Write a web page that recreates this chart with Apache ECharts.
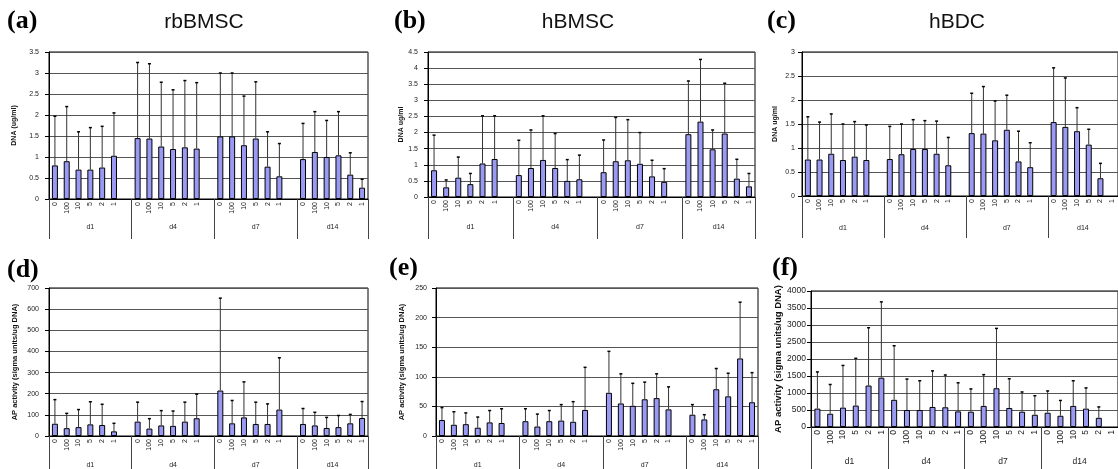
<!DOCTYPE html>
<html>
<head>
<meta charset="utf-8">
<script src="https://cdn.jsdelivr.net/npm/echarts@6/dist/echarts.min.js"></script>
<style>
  html, body { margin: 0; padding: 0; background: #fff; }
  #chart { width: 1118px; height: 469px; }
</style>
</head>
<body>
<div id="chart"></div>
<script>
// categories
const doses = ["0", "100", "10", "5", "2", "1"]
const days = ["d1", "d4", "d7", "d14"]

// (a) rbBMSC - DNA (ug/ml)
const dnaRb = [0.80, 0.90, 0.70, 0.70, 0.75, 1.03, 1.45, 1.44, 1.25, 1.19, 1.23, 1.20, 1.49, 1.49, 1.28, 1.44, 0.77, 0.54, 0.95, 1.12, 1.00, 1.04, 0.58, 0.27]
const dnaRbSd = [1.17, 1.30, 0.90, 1.00, 0.98, 1.02, 1.80, 1.78, 1.53, 1.41, 1.59, 1.57, 1.51, 1.51, 1.17, 1.35, 0.83, 0.78, 0.85, 0.96, 0.87, 1.04, 0.52, 0.20]
// (b) hBMSC - DNA ug/ml
const dnaHb = [0.83, 0.30, 0.60, 0.40, 1.04, 1.18, 0.68, 0.90, 1.15, 0.90, 0.50, 0.55, 0.77, 1.11, 1.14, 1.03, 0.64, 0.47, 1.95, 2.34, 1.48, 1.97, 0.57, 0.33]
const dnaHbSd = [1.09, 0.23, 0.64, 0.33, 1.48, 1.34, 1.08, 1.18, 1.37, 1.07, 0.66, 0.75, 1.00, 1.36, 1.26, 0.97, 0.50, 0.41, 1.65, 1.93, 0.60, 1.56, 0.60, 0.40]
// (c) hBDC - DNA ug/ml (last bar is cut off in the source)
const dnaHd = [0.76, 0.76, 0.88, 0.75, 0.82, 0.75, 0.77, 0.87, 0.98, 0.98, 0.88, 0.64, 1.31, 1.30, 1.16, 1.38, 0.72, 0.60, 1.54, 1.44, 1.35, 1.07, 0.37, null]
const dnaHdSd = [0.89, 0.78, 0.83, 0.75, 0.73, 0.73, 0.68, 0.63, 0.61, 0.59, 0.68, 0.58, 0.83, 0.98, 0.82, 0.72, 0.63, 0.51, 1.13, 1.02, 0.49, 0.32, 0.31, null]
// (d) rbBMSC - AP activity
const apRb = [58, 37, 42, 55, 52, 22, 68, 35, 50, 48, 68, 84, 215, 60, 88, 57, 57, 125, 57, 50, 38, 42, 60, 85]
const apRbSd = [114, 70, 83, 107, 98, 38, 92, 47, 70, 70, 92, 114, 437, 108, 168, 103, 95, 245, 73, 62, 50, 55, 42, 78]
// (e) hBMSC - AP activity
const apHb = [27, 19, 20, 14, 23, 22, 25, 16, 25, 26, 24, 44, 73, 55, 51, 62, 64, 45, 36, 28, 79, 67, 131, 57]
const apHbSd = [21, 22, 19, 18, 20, 24, 21, 21, 18, 27, 34, 72, 70, 50, 38, 29, 41, 38, 17, 8, 35, 39, 95, 50]
// (f) hBDC - AP activity (last bar is cut off in the source)
const apHd = [540, 390, 570, 630, 1220, 1450, 800, 500, 500, 590, 580, 460, 450, 620, 1140, 560, 450, 360, 420, 330, 620, 540, 270, null]
const apHdSd = [1080, 860, 1240, 1390, 1700, 2230, 1590, 910, 860, 1060, 950, 840, 670, 920, 1760, 860, 580, 560, 640, 450, 740, 610, 320, null]

const apName = "AP activity (sigma units/ug DNA)"

const panels = [
  { mean: dnaRb, sd: dnaRbSd, max: 3.5, step: 0.5, name: "DNA (ug/ml)", gap: true,
    left: 49, top: 52, width: 319, height: 147, nameGap: 31, labMargin: 10, tick1: 19, tick2: 40, dayMargin: 25, fs: 7, nfs: 7 },
  { mean: dnaHb, sd: dnaHbSd, max: 4.5, step: 0.5, name: "DNA ug/ml", gap: true,
    left: 428, top: 52, width: 327, height: 145, nameGap: 22, labMargin: 10, tick1: 18, tick2: 42, dayMargin: 27, fs: 7, nfs: 7 },
  { mean: dnaHd, sd: dnaHdSd, max: 3, step: 0.5, name: "DNA ug/ml", gap: true,
    left: 802, top: 52, width: 328, height: 144, nameGap: 23, labMargin: 7, tick1: 21, tick2: 42, dayMargin: 29, fs: 7, nfs: 7 },
  { mean: apRb, sd: apRbSd, max: 700, step: 100, name: apName, gap: true,
    left: 49, top: 288, width: 319, height: 149, nameGap: 30, labMargin: 10, tick1: 20, tick2: 40, dayMargin: 26, fs: 7, nfs: 7.5 },
  { mean: apHb, sd: apHbSd, max: 250, step: 50, name: apName, gap: true,
    left: 436, top: 288, width: 322, height: 149, nameGap: 30, labMargin: 9, tick1: 20, tick2: 40, dayMargin: 26, fs: 7, nfs: 7.5 },
  { mean: apHd, sd: apHdSd, max: 4000, step: 500, name: apName, gap: false,
    left: 811, top: 291, width: 318, height: 136, nameGap: 25, labMargin: 5, tick1: 24, tick2: 45, dayMargin: 30, fs: 8.5, nfs: 9.5 }
]

const font = "Liberation Sans"
const grid = [], xAxis = [], yAxis = [], series = []

panels.forEach(function (p, i) {
  // category list: 6 doses per day, with an empty slot between days when gap is true
  const cats = [], vals = [], errs = []
  const bounds = [0], centers = []
  days.forEach(function (d, k) {
    const start = cats.length
    doses.forEach(function (dose, j) {
      const v = p.mean[k * 6 + j]
      if (v !== null) errs.push([cats.length, v, p.sd[k * 6 + j]])
      cats.push(dose)
      vals.push(v)
    })
    if (p.gap && k < days.length - 1) {
      cats.push("")
      vals.push(null)
    }
    bounds.push(cats.length)
    centers.push((start + cats.length) / 2)
  })

  grid.push({
    left: p.left, top: p.top, width: p.width, height: p.height,
    show: true, borderColor: "#000", borderWidth: 1
  })
  xAxis.push({
    type: "category", gridIndex: i, position: "bottom", data: cats,
    axisLine: { lineStyle: { color: "#000", width: 1 } },
    axisTick: { interval: 0, length: p.tick1, lineStyle: { color: "#222" } },
    axisLabel: { interval: 0, rotate: 90, margin: 3, fontSize: p.fs, fontFamily: font, color: "#222" }
  })
  xAxis.push({
    type: "value", gridIndex: i, position: "bottom", min: 0, max: cats.length,
    axisLine: { show: false },
    splitLine: { show: false },
    axisTick: { customValues: bounds, length: p.tick2, lineStyle: { color: "#444" } },
    axisLabel: {
      customValues: centers, margin: p.dayMargin, fontSize: p.fs, fontFamily: font, color: "#222",
      formatter: function (v) { return days[centers.indexOf(v)] }
    }
  })
  yAxis.push({
    type: "value", gridIndex: i, min: 0, max: p.max, interval: p.step,
    name: p.name, nameLocation: "middle", nameRotate: 90, nameGap: p.nameGap,
    nameTextStyle: { fontSize: p.nfs, fontWeight: "bold", fontFamily: font, color: "#111" },
    axisLine: { show: true, onZero: false, lineStyle: { color: "#000" } },
    axisTick: { show: true, length: 4, lineStyle: { color: "#000" } },
    axisLabel: {
      margin: p.labMargin, fontSize: p.fs, fontFamily: font, color: "#222",
      formatter: function (v) { return String(v) }
    },
    splitLine: { show: true, lineStyle: { color: "#555", width: 1.2 } }
  })
  series.push({
    type: "bar", xAxisIndex: i * 2, yAxisIndex: i, data: vals, barWidth: 6,
    itemStyle: { color: "#9a9af5", borderColor: "#000", borderWidth: 1 }
  })
  series.push({
    type: "custom", xAxisIndex: i * 2, yAxisIndex: i, data: errs, z: 3,
    renderItem: function (params, api) {
      const x = api.value(0), m = api.value(1), e = api.value(2)
      const base = api.coord([x, m])
      const top = api.coord([x, m + e])
      return {
        type: "group",
        children: [
          { type: "line", shape: { x1: base[0], y1: base[1], x2: top[0], y2: top[1] }, style: { stroke: "#333", lineWidth: 1 } },
          { type: "line", shape: { x1: top[0] - 1.5, y1: top[1], x2: top[0] + 1.5, y2: top[1] }, style: { stroke: "#000", lineWidth: 1.5 } }
        ]
      }
    }
  })
})

const letterStyle = { fontFamily: "Liberation Serif", fontWeight: "bold", fontSize: 26, color: "#000" }
const cellStyle = { fontFamily: font, fontWeight: "normal", fontSize: 21, color: "#111" }

const option = {
  animation: false,
  backgroundColor: "#fff",
  title: [
    { text: "(a)", left: 7, top: 8, padding: 0, textStyle: letterStyle },
    { text: "(b)", left: 394, top: 8, padding: 0, textStyle: letterStyle },
    { text: "(c)", left: 767, top: 8, padding: 0, textStyle: letterStyle },
    { text: "(d)", left: 7, top: 257, padding: 0, textStyle: letterStyle },
    { text: "(e)", left: 389, top: 255, padding: 0, textStyle: letterStyle },
    { text: "(f)", left: 772, top: 255, padding: 0, textStyle: letterStyle },
    { text: "rbBMSC", left: 204, top: 12, padding: 0, textAlign: "center", textStyle: cellStyle },
    { text: "hBMSC", left: 578, top: 12, padding: 0, textAlign: "center", textStyle: cellStyle },
    { text: "hBDC", left: 957, top: 12, padding: 0, textAlign: "center", textStyle: cellStyle }
  ],
  grid: grid,
  xAxis: xAxis,
  yAxis: yAxis,
  series: series
}

const myChart = echarts.init(document.getElementById("chart"))
myChart.setOption(option)
</script>
</body>
</html>
